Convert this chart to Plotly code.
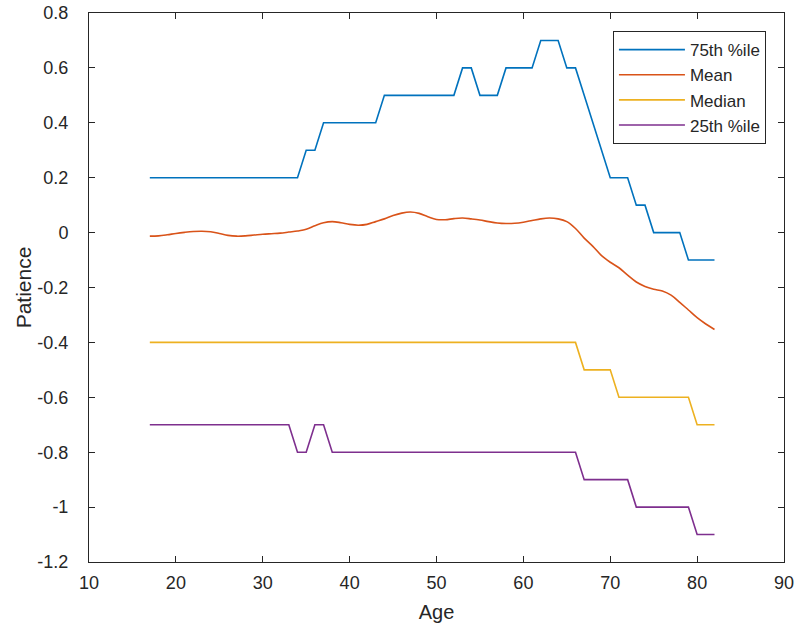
import plotly.graph_objects as go

ages = list(range(17, 83))

p75 = ([0.2] * 18 + [0.3] * 2 + [0.4] * 7 + [0.5] * 9 + [0.6] * 2 + [0.5] * 3 +
       [0.6] * 4 + [0.7] * 3 + [0.6] * 2 + [0.5, 0.4, 0.3] + [0.2] * 3 + [0.1] * 2 +
       [0.0] * 4 + [-0.1] * 4)

mean = [-0.013, -0.012, -0.008, -0.003, 0.001, 0.004, 0.005, 0.003, -0.003, -0.010,
        -0.013, -0.012, -0.009, -0.006, -0.004, -0.002, 0.002, 0.006, 0.012, 0.025,
        0.036, 0.040, 0.036, 0.030, 0.027, 0.030, 0.040, 0.050, 0.062, 0.071,
        0.075, 0.070, 0.058, 0.048, 0.047, 0.051, 0.053, 0.050, 0.046, 0.040,
        0.035, 0.033, 0.034, 0.038, 0.044, 0.050, 0.053, 0.050, 0.040, 0.015,
        -0.020, -0.050, -0.084, -0.108, -0.128, -0.155, -0.180, -0.196, -0.206, -0.213,
        -0.228, -0.254, -0.282, -0.310, -0.333, -0.353]

median = [-0.4] * 50 + [-0.5] * 4 + [-0.6] * 9 + [-0.7] * 3

p25 = ([-0.7] * 17 + [-0.8] * 2 + [-0.7] * 2 + [-0.8] * 29 + [-0.9] * 6 +
       [-1.0] * 7 + [-1.1] * 3)

series = [("75th %ile", p75, "#0072BD", "linear"),
          ("Mean", mean, "#D95319", "spline"),
          ("Median", median, "#EDB120", "linear"),
          ("25th %ile", p25, "#7E2F8E", "linear")]

xticks = [10, 20, 30, 40, 50, 60, 70, 80, 90]
yticks = [0.8, 0.6, 0.4, 0.2, 0, -0.2, -0.4, -0.6, -0.8, -1, -1.2]
yticktext = ["0.8", "0.6", "0.4", "0.2", "0", "-0.2", "-0.4", "-0.6", "-0.8", "-1", "-1.2"]

fig = go.Figure()
for name, vals, color, shape in series:
    fig.add_trace(go.Scatter(x=ages, y=vals, mode="lines", name=name,
                             line=dict(color=color, width=1.6, shape=shape)))

font_family = "Liberation Sans, Arial, sans-serif"
fig.update_layout(
    width=796, height=633,
    margin=dict(l=89, r=12, t=13, b=71),
    paper_bgcolor="white", plot_bgcolor="white",
    font=dict(family=font_family, size=18, color="#262626"),
    showlegend=True,
    legend=dict(x=0.974, y=0.967, xanchor="right", yanchor="top",
                bordercolor="#262626", borderwidth=1, bgcolor="white",
                font=dict(size=17, color="#262626"), tracegroupgap=0,
                itemwidth=66),
    xaxis=dict(range=[10, 90], tickvals=xticks, ticktext=[str(t) for t in xticks],
               ticks="inside", ticklen=6, tickcolor="#262626",
               showline=True, linecolor="#262626", linewidth=1, mirror="ticks",
               showgrid=False, zeroline=False, automargin=False,
               ticklabelstandoff=4,
               title=dict(text="Age", font=dict(size=20), standoff=13)),
    yaxis=dict(range=[-1.2, 0.8], tickvals=yticks, ticktext=yticktext,
               ticks="inside", ticklen=6, tickcolor="#262626",
               showline=True, linecolor="#262626", linewidth=1, mirror="ticks",
               showgrid=False, zeroline=False, automargin=False,
               ticklabelstandoff=16,
               title=dict(text="Patience", font=dict(size=21), standoff=0)),
)

fig.write_html("out.html")
